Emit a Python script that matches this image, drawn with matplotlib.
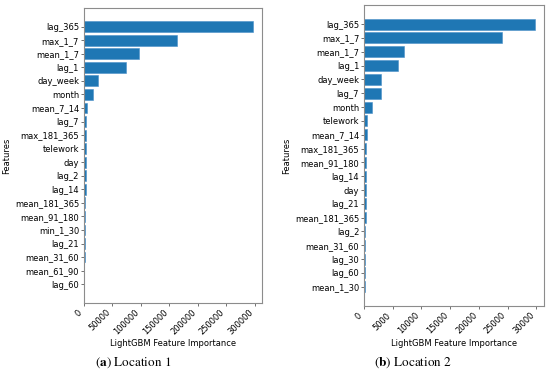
import matplotlib
matplotlib.use("Agg")
import matplotlib.pyplot as plt


# Location 1 (top to bottom)
features_1 = ["lag_365", "max_1_7", "mean_1_7", "lag_1", "day_week", "month",
              "mean_7_14", "lag_7", "max_181_365", "telework", "day", "lag_2",
              "lag_14", "mean_181_365", "mean_91_180", "min_1_30", "lag_21",
              "mean_31_60", "mean_61_90", "lag_60"]
importance_1 = [298000, 164000, 97000, 74000, 24000, 16000,
                5000, 4200, 4000, 3600, 3300, 3000,
                2800, 1800, 1600, 1500, 1200,
                1000, 900, 700]

# Location 2 (top to bottom)
features_2 = ["lag_365", "max_1_7", "mean_1_7", "lag_1", "day_week", "lag_7",
              "month", "telework", "mean_7_14", "max_181_365", "mean_91_180",
              "lag_14", "day", "lag_21", "mean_181_365", "lag_2", "mean_31_60",
              "lag_30", "lag_60", "mean_1_30"]
importance_2 = [29800, 24000, 6900, 5950, 2950, 2880,
                1380, 520, 500, 400, 350,
                330, 320, 300, 280, 250, 240,
                230, 200, 180]

plt.rcParams["mathtext.fontset"] = "stix"


def draw(ax, features, values, ticks):
    # reverse so the biggest bar sits on top
    ax.barh(features[::-1], values[::-1], color="#1f77b4", height=0.8,
            edgecolor="#4a90c8", linewidth=0.4)
    ax.set_xticks(ticks)
    ax.set_xlabel("LightGBM Feature Importance", fontsize=6, labelpad=2)
    ax.set_ylabel("Features", fontsize=6, labelpad=3)
    ax.tick_params(labelsize=6, length=2, width=0.6, pad=1.5, color="0.35")
    for lab in ax.get_xticklabels():
        lab.set_rotation(45)
        lab.set_ha("right")
    for sp in ax.spines.values():
        sp.set_color("0.55")
        sp.set_linewidth(0.8)


fig = plt.figure(figsize=(5.5, 3.75), dpi=100)
ax1 = fig.add_axes([0.1527, 0.192, 0.3236, 0.787])
ax2 = fig.add_axes([0.6618, 0.184, 0.327, 0.803])

draw(ax1, features_1, importance_1, [0, 50000, 100000, 150000, 200000, 250000, 300000])
draw(ax2, features_2, importance_2, [0, 5000, 10000, 15000, 20000, 25000, 30000])

fig.text(0.242, 0.032, r"($\mathbf{a}$) Location 1", fontsize=9.5,
         family="STIXGeneral", ha="center", va="center")
fig.text(0.752, 0.032, r"($\mathbf{b}$) Location 2", fontsize=9.5,
         family="STIXGeneral", ha="center", va="center")

fig.savefig("out.png", dpi=100)
plt.close(fig)
